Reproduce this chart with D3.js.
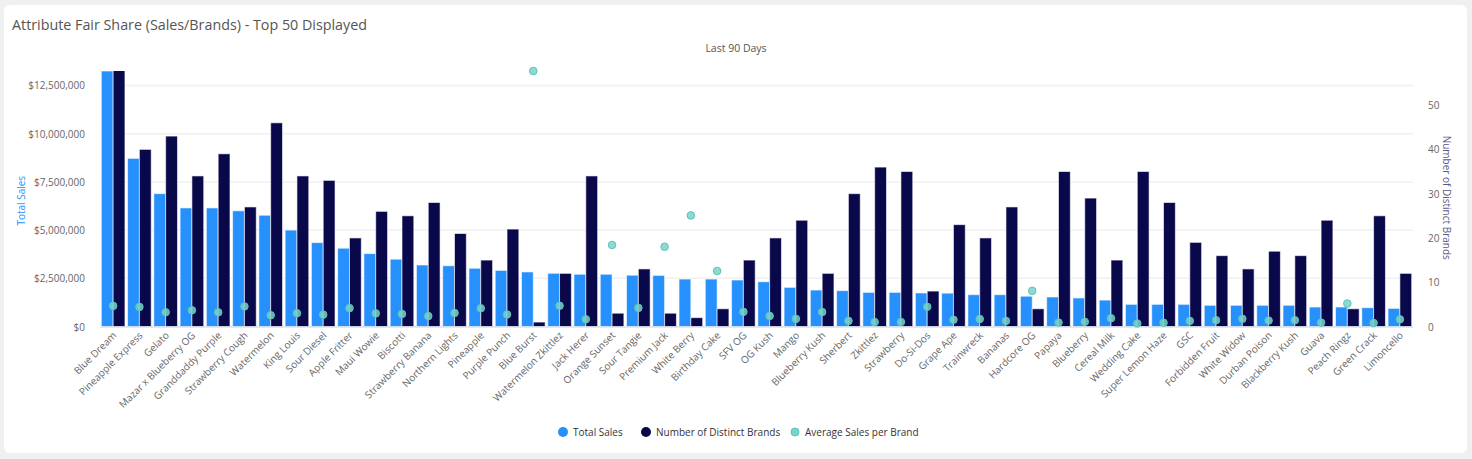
<!DOCTYPE html>
<html>
<head>
<meta charset="utf-8">
<script src="https://cdn.jsdelivr.net/npm/d3@7"></script>
<style>
  body { margin: 0; background: #eef0f2; font-family: "Open Sans", "Noto Sans", sans-serif; }
  svg text { font-family: "Open Sans", "Noto Sans", sans-serif; }
</style>
</head>
<body>
<svg id="chart" width="1472" height="459"></svg>
<script>
var categories = ["Blue Dream", "Pineapple Express", "Gelato", "Mazar x Blueberry OG", "Granddaddy Purple",
    "Strawberry Cough", "Watermelon", "King Louis", "Sour Diesel", "Apple Fritter", "Maui Wowie", "Biscotti",
    "Strawberry Banana", "Northern Lights", "Pineapple", "Purple Punch", "Blue Burst", "Watermelon Zkittlez",
    "Jack Herer", "Orange Sunset", "Sour Tangie", "Premium Jack", "White Berry", "Birthday Cake", "SFV OG",
    "OG Kush", "Mango", "Blueberry Kush", "Sherbert", "Zkittlez", "Strawberry", "Do-Si-Dos", "Grape Ape",
    "Trainwreck", "Bananas", "Hardcore OG", "Papaya", "Blueberry", "Cereal Milk", "Wedding Cake",
    "Super Lemon Haze", "GSC", "Forbidden Fruit", "White Widow", "Durban Poison", "Blackberry Kush", "Guava",
    "Peach Ringz", "Green Crack", "Limoncello"];

// total sales, $
var totalSales = [13250000, 8720000, 6890000, 6150000, 6150000, 6000000, 5770000, 5000000, 4350000, 4060000,
    3780000, 3490000, 3190000, 3150000, 3020000, 2910000, 2830000, 2760000, 2710000, 2710000,
    2660000, 2650000, 2460000, 2460000, 2410000, 2320000, 2030000, 1890000, 1860000, 1770000,
    1770000, 1740000, 1730000, 1650000, 1650000, 1570000, 1530000, 1480000, 1370000, 1150000,
    1150000, 1150000, 1100000, 1100000, 1100000, 1100000, 1010000, 1010000, 975000, 940000];

// number of distinct brands
var brandCounts = [58, 40, 43, 34, 39, 27, 46, 34, 33, 20,
    26, 25, 28, 21, 15, 22, 1, 12, 34, 3,
    13, 3, 2, 4, 15, 20, 24, 12, 30, 36,
    35, 8, 23, 20, 27, 4, 35, 29, 15, 35,
    28, 19, 16, 13, 17, 16, 24, 4, 25, 12];

// average sales per brand, $
var avgSales = [228000, 217000, 158000, 180000, 157000, 222000, 125000, 147000, 131000, 203000,
    145000, 139000, 115000, 150000, 202000, 133000, 2830000, 230000, 80000, 903000,
    206000, 883000, 1230000, 615000, 162000, 117000, 84000, 160000, 62000, 49000,
    50000, 218000, 75000, 83000, 62000, 395000, 44000, 52000, 92000, 34000,
    42000, 62000, 70000, 85000, 66000, 70000, 43000, 255000, 39000, 79000];

var salesTicks = [0, 2500000, 5000000, 7500000, 10000000, 12500000];
var brandTicks = [0, 10, 20, 30, 40, 50];

var legendItems = ["Total Sales", "Number of Distinct Brands", "Average Sales per Brand"];

var colors = { sales: "#2690fc", brands: "#08084a", avg: "#78d4ca", avgStroke: "#5cc3b7" };

var plot = { left: 100, right: 1413, top: 71, bottom: 326.5 };

var svg = d3.select("svg#chart");

// card
svg.append("rect")
    .attr("x", 4).attr("y", 5)
    .attr("width", 1463).attr("height", 448)
    .attr("rx", 6)
    .attr("fill", "#fff");

svg.append("text")
    .attr("x", 12).attr("y", 30)
    .attr("font-size", 14.3)
    .attr("fill", "#555")
    .text("Attribute Fair Share (Sales/Brands) - Top 50 Displayed");

svg.append("text")
    .attr("x", 736).attr("y", 52)
    .attr("text-anchor", "middle")
    .attr("font-size", 10.5)
    .attr("fill", "#555")
    .text("Last 90 Days");

var x0 = d3.scaleBand()
    .domain(categories)
    .range([plot.left, plot.right])
    .paddingInner(0.1)
    .paddingOuter(0.05);

var x1 = d3.scaleBand()
    .domain(["sales", "brands"])
    .range([0, x0.bandwidth()]);

var ySales = d3.scaleLinear().domain([0, 13250000]).range([plot.bottom, plot.top]);
var yBrands = d3.scaleLinear().domain([0, 57.7]).range([plot.bottom, plot.top]);
var yAvg = d3.scaleLinear().domain([0, 2830000]).range([plot.bottom, plot.top]);

// grid lines (left axis)
svg.append("g")
    .selectAll("line")
    .data(salesTicks)
    .join("line")
    .attr("x1", plot.left).attr("x2", plot.right)
    .attr("y1", d => ySales(d)).attr("y2", d => ySales(d))
    .attr("stroke", "#f0f0f0")
    .attr("stroke-width", 1.5);

// left axis
var leftAxis = svg.append("g")
    .attr("transform", "translate(" + (plot.left - 12) + ",0)")
    .call(d3.axisLeft(ySales).tickValues(salesTicks).tickSize(0)
        .tickFormat(d => "$" + d3.format(",")(d)));
leftAxis.select(".domain").remove();
leftAxis.selectAll("text").attr("font-size", 10).attr("fill", "#666").attr("dy", "0.35em");

// right axis
var rightAxis = svg.append("g")
    .attr("transform", "translate(" + (plot.right + 12) + ",0)")
    .call(d3.axisRight(yBrands).tickValues(brandTicks).tickSize(0));
rightAxis.select(".domain").remove();
rightAxis.selectAll("text").attr("font-size", 10).attr("fill", "#666").attr("dy", "0.35em");

svg.append("text")
    .attr("transform", "translate(25," + ((plot.top + plot.bottom) / 2 + 2) + ") rotate(-90)")
    .attr("text-anchor", "middle")
    .attr("font-size", 10)
    .attr("fill", colors.sales)
    .text("Total Sales");

svg.append("text")
    .attr("transform", "translate(1443," + ((plot.top + plot.bottom) / 2 - 1) + ") rotate(90)")
    .attr("text-anchor", "middle")
    .attr("font-size", 10)
    .attr("fill", "#5a5a86")
    .text("Number of Distinct Brands");

svg.append("defs").append("clipPath").attr("id", "plotclip")
    .append("rect")
    .attr("x", plot.left).attr("y", plot.top)
    .attr("width", plot.right - plot.left).attr("height", plot.bottom - plot.top + 1);

var bars = svg.append("g").attr("clip-path", "url(#plotclip)");

var groups = bars.selectAll("g.cat")
    .data(categories)
    .join("g")
    .attr("class", "cat")
    .attr("transform", d => "translate(" + x0(d) + ",0)");

groups.append("rect")
    .attr("x", x1("sales"))
    .attr("y", (d, i) => ySales(totalSales[i]))
    .attr("width", x1.bandwidth())
    .attr("height", (d, i) => plot.bottom - ySales(totalSales[i]))
    .attr("fill", colors.sales)
    .attr("stroke", "#fff").attr("stroke-opacity", 0.6).attr("stroke-width", 1);

groups.append("rect")
    .attr("x", x1("brands"))
    .attr("y", (d, i) => yBrands(brandCounts[i]))
    .attr("width", x1.bandwidth())
    .attr("height", (d, i) => plot.bottom - yBrands(brandCounts[i]))
    .attr("fill", colors.brands)
    .attr("stroke", "#fff").attr("stroke-opacity", 0.6).attr("stroke-width", 1);

// baseline
svg.append("line")
    .attr("x1", plot.left).attr("x2", plot.right)
    .attr("y1", plot.bottom + 0.5).attr("y2", plot.bottom + 0.5)
    .attr("stroke", "#ccd6eb");

// average dots
svg.append("g")
    .selectAll("circle")
    .data(categories)
    .join("circle")
    .attr("cx", d => x0(d) + x0.bandwidth() / 2)
    .attr("cy", (d, i) => yAvg(avgSales[i]))
    .attr("r", 3.8)
    .attr("fill", colors.avg)
    .attr("fill-opacity", 0.85)
    .attr("stroke", colors.avgStroke)
    .attr("stroke-width", 1);

// x labels
svg.append("g")
    .selectAll("text")
    .data(categories)
    .join("text")
    .attr("transform", d => "translate(" + (x0(d) + x0.bandwidth() / 2 + 4) + ",336) rotate(-45)")
    .attr("text-anchor", "end")
    .attr("font-size", 10)
    .attr("fill", "#666")
    .text(d => d);

// legend
var legendX = [563, 646, 795];
var legendColors = [colors.sales, colors.brands, colors.avg];
var legend = svg.append("g")
    .selectAll("g")
    .data(legendItems)
    .join("g")
    .attr("transform", (d, i) => "translate(" + legendX[i] + ",432)");
legend.append("circle")
    .attr("r", (d, i) => i == 2 ? 4 : 5)
    .attr("fill", (d, i) => legendColors[i])
    .attr("stroke", (d, i) => i == 2 ? colors.avgStroke : "none");
legend.append("text")
    .attr("x", 10).attr("dy", "0.35em")
    .attr("font-size", 10)
    .attr("fill", "#333")
    .text(d => d);
</script>
</body>
</html>
